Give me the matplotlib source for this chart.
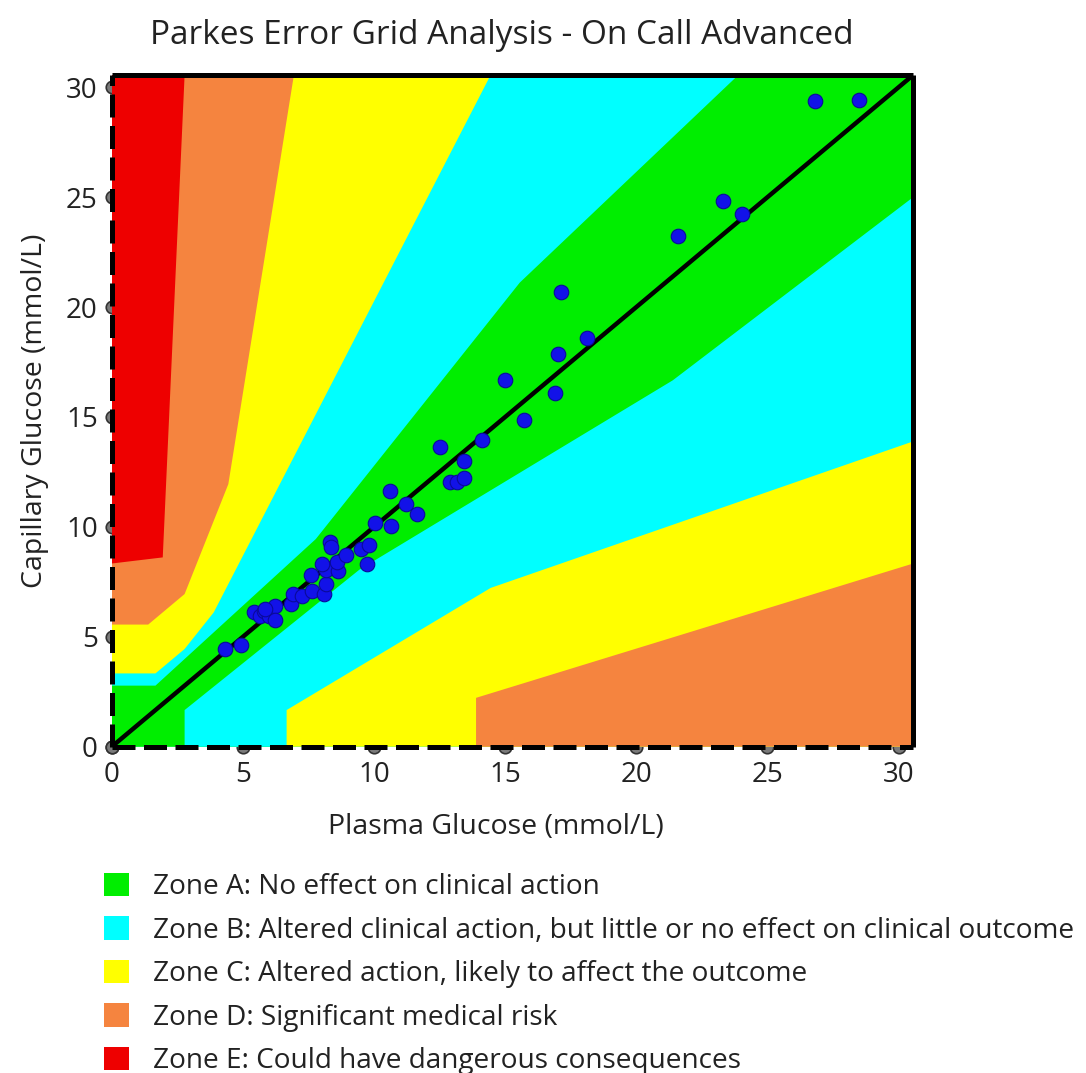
import matplotlib
matplotlib.use("Agg")
import matplotlib.pyplot as plt
from matplotlib.patches import Patch
import numpy as np

plt.rcParams['font.family'] = ['Open Sans', 'DejaVu Sans']

# ---- Data (mmol/L) ----
plasma = [4.33, 4.93, 5.41, 5.67, 5.80, 5.99, 6.24, 6.24, 5.86, 6.82, 6.92, 7.26,
          7.65, 7.58, 8.09, 8.15, 8.15, 8.03, 8.62, 8.60, 8.92, 9.52, 9.81, 9.72,
          8.32, 8.37, 10.03, 10.64, 10.61, 11.21, 11.63, 12.51, 12.90, 13.16, 13.42,
          13.42, 14.12, 15.00, 15.71, 16.91, 17.02, 17.11, 18.12, 21.60, 23.32,
          24.02, 26.80, 28.50]
capillary = [4.43, 4.63, 6.11, 5.93, 6.18, 5.93, 6.41, 5.77, 6.26, 6.49, 6.95, 6.87,
             7.10, 7.79, 6.95, 7.41, 8.06, 8.32, 7.97, 8.40, 8.74, 8.98, 9.19, 8.32,
             9.32, 9.09, 10.16, 10.05, 11.61, 11.04, 10.57, 13.62, 12.03, 12.03, 12.22,
             13.01, 13.93, 16.67, 14.86, 16.08, 17.88, 20.69, 18.60, 23.24, 24.81,
             24.25, 29.36, 29.43]

# ---- Parkes (type 1) zone boundaries, mg/dL ----
MGDL = 18.0
LIM_MGDL = 550
ab_upper = [(0, 50), (30, 50), (140, 170), (280, 380), (430, 550)]
bc_upper = [(0, 60), (30, 60), (50, 80), (70, 110), (260, 550)]
cd_upper = [(0, 100), (25, 100), (50, 125), (80, 215), (125, 550)]
de_upper = [(0, 150), (35, 155), (50, 550)]
ab_lower = [(50, 0), (50, 30), (170, 145), (385, 300), (550, 450)]
bc_lower = [(120, 0), (120, 30), (260, 130), (550, 250)]
cd_lower = [(250, 0), (250, 40), (550, 150)]

ticks = [0, 5, 10, 15, 20, 25, 30]
zone_labels = ["Zone A: No effect on clinical action",
               "Zone B: Altered clinical action, but little or no effect on clinical outcome",
               "Zone C: Altered action, likely to affect the outcome",
               "Zone D: Significant medical risk",
               "Zone E: Could have dangerous consequences"]

C_A = '#00ee00'
C_B = '#00ffff'
C_C = '#ffff00'
C_D = '#f5843f'
C_E = '#ee0000'
zone_colors = [C_A, C_B, C_C, C_D, C_E]
TXT = '#222222'

fig = plt.figure(figsize=(10.86, 10.73), dpi=100)
ax = fig.add_axes([0.1029, 0.3041, 0.738, 0.626])
ax.set_axisbelow(True)
L = LIM_MGDL / MGDL


def below_upper(pts):
    p = [(x / MGDL, y / MGDL) for x, y in pts]
    p += [(L, L), (L, 0), (0, 0)]
    return np.array(p)


def below_lower(pts):
    p = [(x / MGDL, y / MGDL) for x, y in pts]
    p += [(L, 0)]
    return np.array(p)


ax.add_patch(plt.Rectangle((0, 0), L, L, color=C_E, lw=0, zorder=1))
for pts, c in [(de_upper, C_D), (cd_upper, C_C), (bc_upper, C_B), (ab_upper, C_A)]:
    poly = below_upper(pts)
    ax.fill(poly[:, 0], poly[:, 1], color=c, lw=0, zorder=1.1)
for pts, c in [(ab_lower, C_B), (bc_lower, C_C), (cd_lower, C_D)]:
    poly = below_lower(pts)
    ax.fill(poly[:, 0], poly[:, 1], color=c, lw=0, zorder=1.2)

ax.plot([0, L], [0, L], color='black', lw=3.2, zorder=3, solid_capstyle='butt')
ax.scatter(plasma, capillary, s=110, color='#1212e8', edgecolor='#0a0a9a',
           linewidth=0.8, zorder=4)

ax.set_xlim(0, L)
ax.set_ylim(0, L)
ax.set_xticks(ticks)
ax.set_yticks(ticks)
ax.tick_params(labelsize=20, length=0, labelcolor=TXT)
ax.tick_params(axis='x', pad=10)
ax.tick_params(axis='y', pad=10)
for t in ax.xaxis.get_major_ticks() + ax.yaxis.get_major_ticks():
    t.tick1line.set_marker('o')
    t.tick1line.set_markersize(9)
    t.tick1line.set_markerfacecolor('#7a7a7a')
    t.tick1line.set_markeredgecolor('#333333')
    t.tick1line.set_markeredgewidth(1.2)

for side in ['top', 'right', 'left', 'bottom']:
    ax.spines[side].set_linewidth(3.6)
    ax.spines[side].set_color('black')
    ax.spines[side].set_zorder(5)
    ax.spines[side].set_capstyle('butt')
for side in ['left', 'bottom']:
    ax.spines[side].set_linestyle((0, (4.6, 1.7)))

ax.set_xlabel("Plasma Glucose (mmol/L)", fontsize=20.5, color=TXT)
ax.xaxis.set_label_coords(0.479, -0.098)
ax.set_ylabel("Capillary Glucose (mmol/L)", fontsize=20.5, color=TXT, labelpad=12)
fig.text(0.462, 0.967, "Parkes Error Grid Analysis - On Call Advanced",
         fontsize=24, ha='center', va='center', color=TXT)

handles = [Patch(facecolor=c, edgecolor='none') for c in zone_colors]
fig.legend(handles, zone_labels, loc='upper left', bbox_to_anchor=(0.085, 0.197),
           frameon=False, fontsize=20.2, handlelength=0.9, handleheight=0.9,
           handletextpad=0.86, labelspacing=0.54, labelcolor=TXT,
           borderaxespad=0)

fig.savefig("out.png", dpi=100)
